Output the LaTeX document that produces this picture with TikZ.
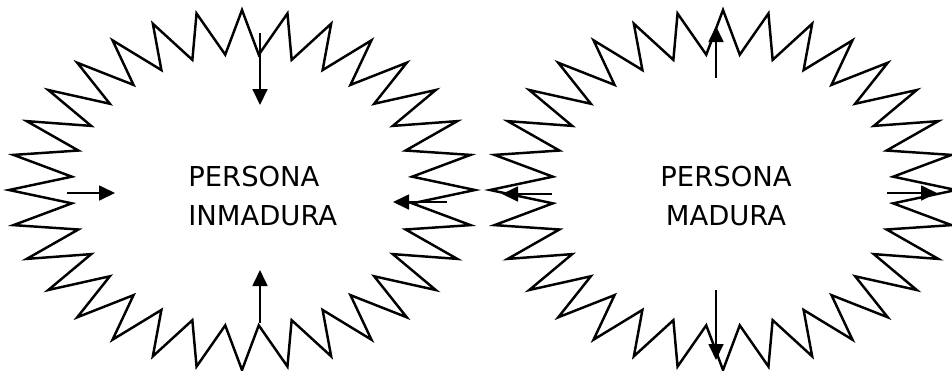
\documentclass[tikz,border=0pt]{standalone}
\usepackage{fontspec}
\setmainfont{DejaVu Sans}
\usetikzlibrary{arrows.meta}

\begin{document}
\begin{tikzpicture}[x=0.02cm, y=-0.02cm,
    estrella/.style={line width=1.4pt, line join=miter},
    flecha/.style={line width=1pt, -{Triangle[length=0.32cm, width=0.3cm]}},
    rotulo/.style={inner sep=0pt, font=\fontsize{15.6}{22.2}\selectfont}]
\useasboundingbox (0,0) rectangle (952,370);
% las dos personas
\draw[estrella] plot[domain=0:63, samples=64, variable=\k]
    ({242+(233-62*mod(\k,2))*cos(\k*5.625)}, {190+(180-44*mod(\k,2))*sin(\k*5.625)}) -- cycle;
\draw[estrella] plot[domain=0:63, samples=64, variable=\k]
    ({723+(233-62*mod(\k,2))*cos(\k*5.625)}, {190+(180-44*mod(\k,2))*sin(\k*5.625)}) -- cycle;
\node[rotulo, align=left, anchor=west] (inmadura) at (188,196) {PERSONA\\INMADURA};
\node[rotulo, align=center] (madura) at (726,196) {PERSONA\\MADURA};
% extremos de las flechas
\foreach \n/\x/\y in {iA/260/33, iB/260/105, iC/67/193, iD/115/193,
                      iE/447/202, iF/393/202, iG/260/323, iH/260/270,
                      mA/716/78, mB/716/26, mC/552/194, mD/502/194,
                      mE/887/193, mF/937/193, mG/716/290, mH/716/360}
  \coordinate (\n) at (\x,\y);
% hacia dentro / hacia fuera
\foreach \s/\e in {iA/iB, iC/iD, iE/iF, iG/iH, mA/mB, mC/mD, mE/mF, mG/mH}
  \draw[flecha] (\s) -- (\e);
\end{tikzpicture}
\end{document}
